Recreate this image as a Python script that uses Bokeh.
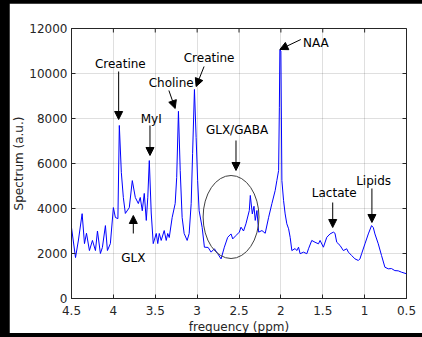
from bokeh.plotting import figure
from bokeh.models import Range1d, Label, Arrow, NormalHead, FixedTicker
from bokeh.embed import file_html
from bokeh.resources import INLINE

# ---------------- data ----------------
ppm = [4.500, 4.452, 4.417, 4.373, 4.345, 4.321, 4.286, 4.250, 4.214, 4.190,
       4.155, 4.131, 4.095, 4.071, 4.036, 4.000, 3.976, 3.946, 3.929, 3.905,
       3.881, 3.857, 3.810, 3.774, 3.738, 3.702, 3.679, 3.655, 3.631, 3.607,
       3.589, 3.571, 3.548, 3.524, 3.488, 3.470, 3.452, 3.429, 3.393, 3.369,
       3.351, 3.333, 3.298, 3.262, 3.244, 3.223, 3.202, 3.179, 3.155, 3.119,
       3.095, 3.071, 3.054, 3.032, 3.012, 2.994, 2.976, 2.940, 2.913, 2.869,
       2.833, 2.794, 2.754, 2.714, 2.675, 2.635, 2.595, 2.575, 2.536, 2.496,
       2.476, 2.446, 2.417, 2.377, 2.365, 2.341, 2.321, 2.306, 2.286, 2.265,
       2.226, 2.187, 2.146, 2.107, 2.068, 2.048, 2.027, 2.018, 2.012, 2.000,
       1.988, 1.968, 1.949, 1.929, 1.908, 1.889, 1.869, 1.830, 1.810, 1.789,
       1.770, 1.730, 1.690, 1.670, 1.631, 1.592, 1.551, 1.532, 1.492, 1.452,
       1.413, 1.373, 1.354, 1.333, 1.294, 1.254, 1.214, 1.194, 1.155, 1.115,
       1.075, 1.056, 1.036, 0.996, 0.956, 0.917, 0.896, 0.877, 0.837, 0.798,
       0.758, 0.718, 0.679, 0.639, 0.599, 0.560, 0.500]
spectrum = [3150, 1820, 2600, 3770, 2440, 2900, 2130, 2580, 2130, 3000,
            2000, 2270, 3240, 2130, 2440, 4040, 3600, 3550, 7690, 5600,
            4490, 3780, 4040, 5240, 4490, 4220, 4490, 3900, 4670, 3470,
            4500, 6130, 3800, 2440, 2890, 2440, 2890, 2580, 3020, 2580,
            2890, 2710, 3600, 4220, 5380, 8320, 5690, 3600, 2890, 2580,
            2890, 4220, 6440, 9290, 7160, 5240, 3900, 3160, 2280, 2270,
            2060, 2210, 1990, 1760, 2280, 2720, 2870, 2650, 2800, 2950,
            3170, 3000, 3320, 3910, 4580, 3760, 4100, 3470, 3910, 2950,
            3020, 2900, 3610, 4220, 4800, 5240, 5690, 8500, 11050, 11000,
            5240, 4360, 3760, 3320, 3100, 2720, 2130, 2220, 2130, 2280,
            1990, 2060, 1990, 2210, 2580, 2500, 2430, 2580, 2280, 2720,
            2870, 2950, 2900, 2500, 2360, 2130, 2210, 2060, 1910, 1760,
            1690, 1760, 1990, 2430, 2870, 3240, 3150, 2870, 2430, 1910,
            1390, 1320, 1330, 1240, 1230, 1170, 1100]

x_ticks = [4.5, 4.0, 3.5, 3.0, 2.5, 2.0, 1.5, 1.0, 0.5]
x_tick_labels = ["4.5", "4", "3.5", "3", "2.5", "2", "1.5", "1", "0.5"]
y_ticks = [0, 2000, 4000, 6000, 8000, 10000, 12000]

peak_names = ["Creatine", "MyI", "Choline", "Creatine", "NAA",
              "GLX/GABA", "GLX", "Lactate", "Lipids"]

# ---------------- annotation placement ----------------
label_x = [3.917, 3.548, 3.310, 2.857, 1.583, 2.524, 3.762, 1.363, 0.893]
label_y = [10444, 7956, 9556, 10711, 11347, 7467, 1822, 4667, 5244]
arrow_x0 = [3.937, 3.563, 3.337, 2.917, 1.762, 2.536, 3.762, 1.381, 0.913]
arrow_y0 = [10089, 7689, 9244, 10311, 11511, 7022, 2889, 4267, 4889]
arrow_x1 = [3.937, 3.563, 3.262, 3.012, 2.012, 2.536, 3.762, 1.381, 0.913]
arrow_y1 = [7956, 6356, 8444, 9422, 11067, 5689, 3689, 3156, 3378]

FONT = "DejaVu Sans"
AX = "#262626"
X0, X1, Y0, Y1 = 4.5, 0.5, 0, 12000
FRAME_W, FRAME_H = 336, 270
TICK = 4  # px, inward ticks

p = figure(width=413, height=338, output_backend="svg", toolbar_location=None,
           x_range=Range1d(X0, X1), y_range=Range1d(Y0, Y1),
           min_border_left=61, min_border_right=16, min_border_top=25,
           min_border_bottom=43, background_fill_color="white",
           border_fill_color="white", outline_line_color=AX)

xt = FixedTicker(ticks=x_ticks)
yt = FixedTicker(ticks=y_ticks)
p.xaxis.ticker = xt
p.yaxis.ticker = yt
p.xgrid.ticker = xt
p.ygrid.ticker = yt
p.xaxis.major_label_overrides = {t: s for t, s in zip(x_ticks, x_tick_labels)}
for ax in (p.xaxis[0], p.yaxis[0]):
    ax.major_tick_in = TICK
    ax.major_tick_out = 0
    ax.minor_tick_in = 0
    ax.minor_tick_out = 0
    ax.axis_line_color = AX
    ax.major_tick_line_color = AX
    ax.major_label_text_font = FONT
    ax.major_label_text_font_size = "12px"
    ax.major_label_text_color = AX
    ax.axis_label_text_font = FONT
    ax.axis_label_text_font_size = "12px"
    ax.axis_label_text_font_style = "normal"
    ax.axis_label_text_color = AX
p.xaxis.major_label_standoff = 7
p.yaxis.major_label_standoff = 4
p.xaxis.axis_label = "frequency (ppm)"
p.yaxis.axis_label = "Spectrum (a.u.)"
p.xaxis.axis_label_standoff = 2
p.yaxis.axis_label_standoff = 0
p.grid.grid_line_color = AX
p.grid.grid_line_alpha = 0.15

# inward tick marks on the top and right edges of the box
dy = TICK * (Y1 - Y0) / FRAME_H
dx = TICK * (X0 - X1) / FRAME_W
p.segment(x0=x_ticks, x1=x_ticks, y0=[Y1] * len(x_ticks),
          y1=[Y1 - dy] * len(x_ticks), line_color=AX, line_width=1)
p.segment(x0=[X1] * len(y_ticks), x1=[X1 + dx] * len(y_ticks),
          y0=y_ticks, y1=y_ticks, line_color=AX, line_width=1)

p.line(ppm, spectrum, line_color="#0000ff", line_width=1)

p.ellipse(x=[2.595], y=[3622], width=[0.667], height=[3689],
          fill_color=None, line_color="#404040", line_width=1)

for name, lx, ly, x0, y0, x1, y1 in zip(peak_names, label_x, label_y,
                                        arrow_x0, arrow_y0, arrow_x1, arrow_y1):
    p.add_layout(Label(x=lx, y=ly, text=name, text_align="center",
                       text_baseline="middle", text_font=FONT,
                       text_font_size="12px", text_color="#000000"))
    p.add_layout(Arrow(x_start=x0, y_start=y0, x_end=x1, y_end=y1,
                       line_color="#000000", line_width=1,
                       end=NormalHead(size=8, fill_color="#000000",
                                      line_color="#000000")))

html = file_html(p, INLINE)
html = html.replace(
    "</head>",
    "<style>html,body{background:#000 !important;overflow:hidden !important;}"
    "body{padding:3px 0 0 9px !important;}"
    "body::after{content:'';position:fixed;left:0;right:0;bottom:0;height:4px;"
    "background:#000;z-index:1000;}</style></head>", 1)
open("out.html", "w").write(html)
